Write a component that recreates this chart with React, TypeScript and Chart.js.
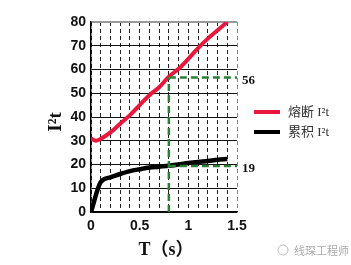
import React, { useEffect, useRef } from "react";
import { Chart, registerables } from "chart.js";

Chart.register(...registerables);

const fuseX = [0, 0.05, 0.1, 0.2, 0.3, 0.4, 0.5, 0.6, 0.7, 0.8, 0.9, 1.0, 1.1, 1.2, 1.3, 1.4];
const fuseY = [31, 30, 30.8, 33.5, 37.2, 40.8, 45, 49.2, 52.5, 57, 60.3, 64.5, 69, 73, 76.5, 80];
const cumX = [0, 0.1, 0.2, 0.3, 0.4, 0.5, 0.6, 0.7, 0.8, 0.9, 1.0, 1.1, 1.2, 1.3, 1.4];
const cumY = [0, 12.6, 14.6, 16, 17.2, 18, 18.7, 19.1, 19.5, 20, 20.6, 21.1, 21.5, 22, 22.3];
const markX = 0.8;
const markFuse = 56.6;
const markCum = 19.4;
const markLabels = ["56", "19"];
const legendLabels = ["熔断 I²t", "累积 I²t"];
const yTitle = "I²t";
const xTitle = "T（s）";
const watermark = "线琛工程师";

const RED = "#e8173c";
const GREEN = "#2a7f36";

export default function App() {
  const ref = useRef<HTMLCanvasElement | null>(null);
  useEffect(() => {
    const canvas = ref.current;
    if (!canvas) return;
    const pts = (xs: number[], ys: number[]) => xs.map((x, i) => ({ x, y: ys[i] }));
    const overlay = {
      id: "overlay",
      afterDraw(chart: any) {
        const ctx = chart.ctx;
        const ys = chart.scales.y;
        ctx.save();
        ctx.fillStyle = "#111";
        ctx.font = "bold 13px 'Liberation Serif', serif";
        ctx.textAlign = "left";
        ctx.textBaseline = "middle";
        ctx.fillText(markLabels[0], 242, ys.getPixelForValue(markFuse) + 3);
        ctx.fillText(markLabels[1], 242, ys.getPixelForValue(markCum) + 3);
        const lx = 254;
        const rows = [
          { c: RED, y: 112, t: legendLabels[0] },
          { c: "#000", y: 132, t: legendLabels[1] },
        ];
        rows.forEach((r) => {
          ctx.fillStyle = r.c;
          ctx.fillRect(lx, r.y - 2, 26, 4);
          ctx.fillStyle = "#333";
          ctx.font = "13px 'Liberation Serif', 'Noto Sans CJK SC', serif";
          ctx.textBaseline = "middle";
          ctx.fillText(r.t, 288, r.y + 1);
        });
        ctx.save();
        ctx.translate(56, 122);
        ctx.rotate(-Math.PI / 2);
        ctx.fillStyle = "#111";
        ctx.font = "bold 19px 'Liberation Serif', serif";
        ctx.textAlign = "center";
        ctx.textBaseline = "middle";
        ctx.fillText(yTitle, 0, 0);
        ctx.restore();
        ctx.fillStyle = "#111";
        ctx.font = "bold 18px 'Liberation Serif', 'Noto Sans CJK SC', serif";
        ctx.textAlign = "center";
        ctx.textBaseline = "middle";
        ctx.fillText(xTitle, 166, 250);
        ctx.fillStyle = "#aaa";
        ctx.font = "11px 'Noto Sans CJK SC', sans-serif";
        ctx.textAlign = "left";
        ctx.fillText(watermark, 294, 251);
        ctx.strokeStyle = "#bbb";
        ctx.lineWidth = 1;
        ctx.beginPath();
        ctx.arc(283, 250, 5, 0, Math.PI * 2);
        ctx.stroke();
        ctx.restore();
      },
    };
    const green = { borderColor: GREEN, borderWidth: 2.5, borderDash: [7, 4], pointRadius: 0 };
    const chart = new Chart(canvas, {
      type: "line",
      data: {
        datasets: [
          { data: pts([markX, markX], [0, markFuse]), ...green },
          { data: pts([markX, 1.5], [markFuse, markFuse]), ...green },
          { data: pts([markX, 1.5], [markCum, markCum]), ...green },
          {
            data: pts(fuseX, fuseY),
            borderColor: RED,
            borderWidth: 4,
            pointRadius: 0,
            cubicInterpolationMode: "monotone",
          },
          {
            data: pts(cumX, cumY),
            borderColor: "#000",
            borderWidth: 4.5,
            pointRadius: 0,
            cubicInterpolationMode: "monotone",
          },
        ],
      },
      options: {
        animation: false,
        responsive: false,
        events: [],
        layout: { padding: { top: 22, right: 114, left: 0, bottom: 0 } },
        plugins: { legend: { display: false }, tooltip: { enabled: false } },
        scales: {
          x: {
            type: "linear",
            min: 0,
            max: 1.5,
            afterFit: (s: any) => {
              s.height = 53;
            },
            ticks: {
              stepSize: 0.1,
              autoSkip: false,
              maxRotation: 0,
              padding: 6,
              color: "#111",
              font: { family: "'Liberation Sans', Arial, sans-serif", size: 14, weight: "bold" },
              callback: (v: any) => {
                const n = Number(v);
                const r = Math.round(n * 2);
                if (Math.abs(n * 2 - r) < 1e-6) return String(r / 2);
                return "";
              },
            },
            grid: {
              drawTicks: false,
              lineWidth: 1,
              color: (c: any) => {
                const v = c.tick ? c.tick.value : 0;
                if (Math.abs(v - 1.5) < 1e-6) return "#888";
                return "#222";
              },
            },
            border: { display: true, color: "#000", width: 1.5, dash: [4, 3] },
          },
          y: {
            min: 0,
            max: 80,
            afterFit: (s: any) => {
              s.width = 91;
            },
            ticks: {
              stepSize: 10,
              padding: 5,
              color: "#111",
              font: { family: "'Liberation Sans', Arial, sans-serif", size: 14, weight: "bold" },
            },
            grid: {
              drawTicks: false,
              color: (c: any) => {
                const v = c.tick ? c.tick.value : 0;
                if (v === 80) return "#999";
                return "#111";
              },
              lineWidth: (c: any) => {
                const v = c.tick ? c.tick.value : 0;
                return v === 80 ? 2 : 1;
              },
            },
            border: { display: true, color: "#000", width: 1.5 },
          },
        },
      },
      plugins: [overlay],
    } as any);
    return () => chart.destroy();
  }, []);
  return (
    <div style={{ position: "fixed", left: 0, top: 0, width: 351, height: 265, background: "#fff" }}>
      <canvas ref={ref} width={351} height={265} style={{ width: 351, height: 265, display: "block" }} />
    </div>
  );
}
